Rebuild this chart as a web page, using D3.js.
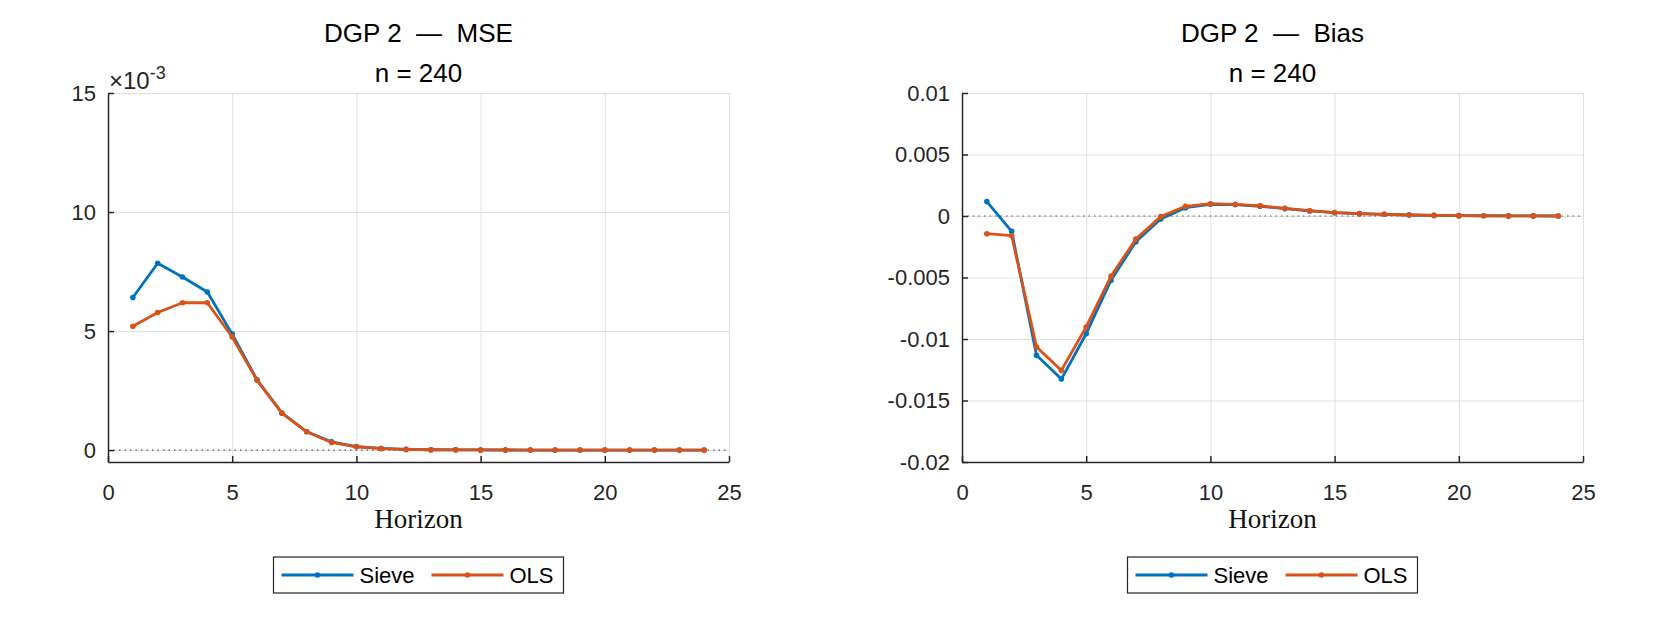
<!DOCTYPE html>
<html>
<head>
<meta charset="utf-8">
<script src="https://cdn.jsdelivr.net/npm/d3@7"></script>
<style>
  html, body { margin: 0; padding: 0; background: #fff; }
  svg { display: block; font-family: "Liberation Sans", Arial, sans-serif; }
  .title { white-space: pre; }
</style>
</head>
<body>
<div id="chart"></div>
<script>
// DATOS
const horizon = [1, 2, 3, 4, 5, 6, 7, 8, 9, 10, 11, 12, 13, 14, 15, 16, 17, 18, 19, 20, 21, 22, 23, 24];

const mseSieve = [0.00641, 0.00785, 0.00727, 0.00664, 0.00487, 0.00295, 0.00156, 0.00077, 0.00035, 0.00015, 0.00007, 0.00003,
                  0.000015, 0.00001, 0.000006, 0.000004, 0.000003, 0.000002, 0.000001, 0.000001, 0.000001, 0, 0, 0];
const mseOLS   = [0.00520, 0.00578, 0.00619, 0.00619, 0.00475, 0.00293, 0.00155, 0.00077, 0.00032, 0.00014, 0.00006, 0.00003,
                  0.000015, 0.00001, 0.000006, 0.000004, 0.000003, 0.000002, 0.000001, 0.000001, 0.000001, 0, 0, 0];

const biasSieve = [0.00117, -0.00125, -0.01133, -0.01326, -0.00957, -0.00522, -0.00209, -0.00024, 0.00068, 0.00095, 0.00092, 0.00079,
                   0.00060, 0.00041, 0.00027, 0.00019, 0.00014, 0.00008, 0.00005, 0.00003, 0.00002, 0.00001, 0.00001, 0];
const biasOLS   = [-0.00144, -0.00160, -0.01065, -0.01255, -0.00902, -0.00489, -0.00188, -0.00005, 0.00079, 0.00100, 0.00095, 0.00082,
                   0.00062, 0.00043, 0.00028, 0.00020, 0.00014, 0.00008, 0.00005, 0.00003, 0.00002, 0.00001, 0.00001, 0];

const xTicks = [0, 5, 10, 15, 20, 25];
const mseTicks = [0, 0.005, 0.01, 0.015];
const mseTickLabels = ["0", "5", "10", "15"];
const biasTicks = [-0.02, -0.015, -0.01, -0.005, 0, 0.005, 0.01];
const biasTickLabels = ["-0.02", "-0.015", "-0.01", "-0.005", "0", "0.005", "0.01"];

const seriesNames = ["Sieve", "OLS"];
const COLORS = ["#0072BD", "#D95319"];
const AXIS_COLOR = "#262626";
const GRID_COLOR = "#dfdfdf";

// CONFIGURACIÓN
const W = 1661, H = 623;
const svg = d3.select("#chart").append("svg").attr("width", W).attr("height", H);
svg.append("rect").attr("width", W).attr("height", H).attr("fill", "#fff");

function drawPanel(opts) {
    const { left, right, top, bottom, yDomain, yTicks, yLabels, series, title } = opts;
    const x = d3.scaleLinear().domain([0, 25]).range([left, right]);
    const y = d3.scaleLinear().domain(yDomain).range([bottom, top]);
    const g = svg.append("g");

    // rejilla
    g.append("g").attr("transform", `translate(0,${bottom})`)
        .call(d3.axisBottom(x).tickValues(xTicks).tickSize(-(bottom - top)).tickFormat(""))
        .call(a => a.select(".domain").remove())
        .call(a => a.selectAll("line").attr("stroke", GRID_COLOR).attr("stroke-width", 1));
    g.append("g").attr("transform", `translate(${left},0)`)
        .call(d3.axisLeft(y).tickValues(yTicks).tickSize(-(right - left)).tickFormat(""))
        .call(a => a.select(".domain").remove())
        .call(a => a.selectAll("line").attr("stroke", GRID_COLOR).attr("stroke-width", 1));

    // línea en cero
    g.append("line")
        .attr("x1", left).attr("x2", right).attr("y1", y(0)).attr("y2", y(0))
        .attr("stroke", "#555").attr("stroke-width", 1.2).attr("stroke-dasharray", "1.5,4");

    // ejes
    const xAxis = g.append("g").attr("transform", `translate(0,${bottom})`)
        .call(d3.axisBottom(x).tickValues(xTicks).tickSizeInner(-6).tickSizeOuter(0).tickPadding(22).tickFormat(d3.format("d")));
    const yAxis = g.append("g").attr("transform", `translate(${left},0)`)
        .call(d3.axisLeft(y).tickValues(yTicks).tickSizeInner(-6).tickSizeOuter(0).tickPadding(12).tickFormat((d, i) => yLabels[i]));
    [xAxis, yAxis].forEach(a => {
        a.select(".domain").attr("stroke", AXIS_COLOR).attr("stroke-width", 1.5);
        a.selectAll(".tick line").attr("stroke", AXIS_COLOR).attr("stroke-width", 1.5);
        a.selectAll("text").attr("fill", AXIS_COLOR).style("font-size", "22px")
            .style("font-family", "'Liberation Sans', Arial, sans-serif");
    });

    // series
    const line = d3.line().x((d, i) => x(horizon[i])).y(d => y(d));
    series.forEach((vals, k) => {
        g.append("path").datum(vals)
            .attr("fill", "none").attr("stroke", COLORS[k]).attr("stroke-width", 2.8)
            .attr("stroke-linejoin", "round").attr("d", line);
        g.selectAll(null).data(vals).enter().append("circle")
            .attr("cx", (d, i) => x(horizon[i])).attr("cy", d => y(d)).attr("r", 2.8)
            .attr("fill", COLORS[k]);
    });

    // títulos
    const cx = (left + right) / 2;
    g.append("text").attr("class", "title").attr("x", cx).attr("y", 42).attr("text-anchor", "middle")
        .style("font-size", "26px").attr("fill", "#000").text(title);
    g.append("text").attr("x", cx).attr("y", 82).attr("text-anchor", "middle")
        .style("font-size", "26px").attr("fill", "#000").text("n = 240");
    g.append("text").attr("x", cx).attr("y", 528).attr("text-anchor", "middle")
        .style("font-family", "'Liberation Serif', 'Times New Roman', serif").style("font-size", "27px")
        .attr("fill", "#111").text("Horizon");

    // leyenda
    const lg = g.append("g").attr("transform", `translate(${cx - 145},557)`);
    lg.append("rect").attr("width", 290).attr("height", 36)
        .attr("fill", "#fff").attr("stroke", AXIS_COLOR).attr("stroke-width", 1.2);
    seriesNames.forEach((name, k) => {
        const ox = 8 + k * 150;
        lg.append("line").attr("x1", ox).attr("x2", ox + 72).attr("y1", 18).attr("y2", 18)
            .attr("stroke", COLORS[k]).attr("stroke-width", 2.8);
        lg.append("circle").attr("cx", ox + 36).attr("cy", 18).attr("r", 2.8).attr("fill", COLORS[k]);
        lg.append("text").attr("x", ox + 78).attr("y", 26).style("font-size", "22px")
            .attr("fill", "#000").text(name);
    });
    return g;
}

const g1 = drawPanel({
    left: 108, right: 729, top: 93, bottom: 462,
    yDomain: [-0.0005, 0.015], yTicks: mseTicks, yLabels: mseTickLabels,
    series: [mseSieve, mseOLS], title: "DGP 2  \u2014  MSE"
});
// exponente ×10^-3
const expo = g1.append("text").attr("x", 109).attr("y", 89).attr("fill", AXIS_COLOR).style("font-size", "24px");
expo.append("tspan").text("\u00d710");
expo.append("tspan").attr("dy", -10).style("font-size", "18px").text("-3");

drawPanel({
    left: 962, right: 1583, top: 93, bottom: 462,
    yDomain: [-0.02, 0.01], yTicks: biasTicks, yLabels: biasTickLabels,
    series: [biasSieve, biasOLS], title: "DGP 2  \u2014  Bias"
});
</script>
</body>
</html>
